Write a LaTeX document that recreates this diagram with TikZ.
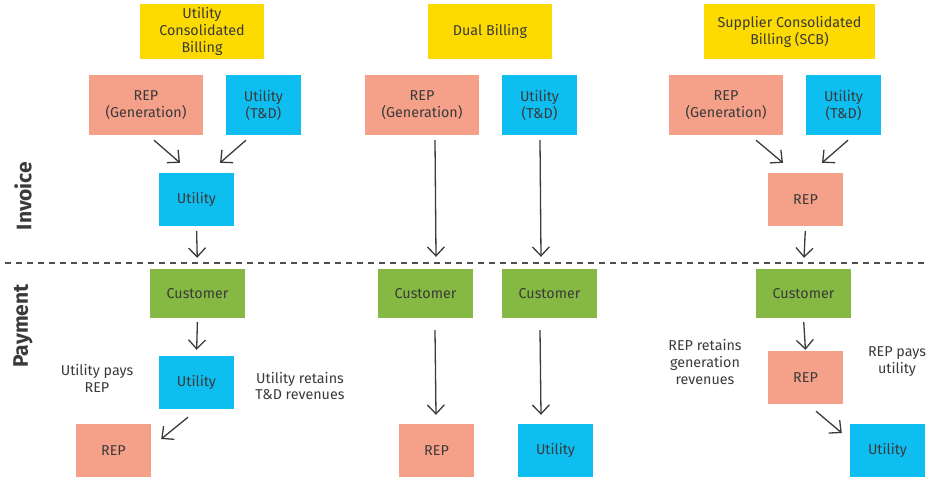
\documentclass[tikz,border=0pt]{standalone}
\usepackage{fontspec}
\setmainfont{Fira Sans}
\usepackage{tikz}
\usetikzlibrary{arrows.meta, calc}
\definecolor{billyellow}{RGB}{253, 219, 0}
\definecolor{repsalmon}{RGB}{245, 160, 137}
\definecolor{utilblue}{RGB}{14, 190, 240}
\definecolor{custgreen}{RGB}{134, 185, 67}
\definecolor{inkgray}{RGB}{58, 58, 58}

\tikzset{
  box/.style={inner sep=0pt, align=center, text=inkgray, font=\fontsize{14.3}{17}\selectfont},
  headbox/.style={box, fill=billyellow, minimum height=55pt},
  repbox/.style={box, fill=repsalmon, minimum width=75pt, minimum height=53pt},
  utilbox/.style={box, fill=utilblue, minimum width=75pt, minimum height=53pt},
  custbox/.style={box, fill=custgreen, minimum width=95pt, minimum height=49pt},
  note/.style={align=center, text=inkgray, font=\fontsize{14.3}{17}\selectfont},
  phase/.style={rotate=90, text=inkgray, font=\fontsize{21}{24}\selectfont\bfseries},
  arr/.style={-{Straight Barb[length=9pt, width=17pt, line width=1.3pt]}, line width=1.3pt, draw=inkgray}
}

\begin{document}
\begin{tikzpicture}[x=1pt, y=-1pt]
  \useasboundingbox (0,0) rectangle (928,477);
  % phase labels
  \node[phase] (inv) at (23,196) {Invoice};
  \node[phase] (pay) at (23,326) {Payment};
  \coordinate (dl) at (5,263);
  \coordinate (dr) at (928,263);
  \draw[inkgray!90, line width=2pt, dash pattern=on 6pt off 5pt] (dl) -- (dr);

  % utility consolidated billing
  \node[headbox, minimum width=124pt] (hA) at (202,31.5) {Utility\\Consolidated\\Billing};
  \node[repbox, minimum width=114pt, minimum height=60pt] (gA) at (146,105) {REP\\(Generation)};
  \node[utilbox, minimum height=60pt] (tA) at (263.5,105) {Utility\\(T\&D)};
  \node[utilbox] (iA) at (196.5,199.5) {Utility};
  \node[custbox] (cA) at (197.5,293.5) {Customer};
  \node[utilbox] (pA) at (196.5,382.5) {Utility};
  \node[repbox] (rA) at (113.5,450.5) {REP};
  \node[note] (nA1) at (97,378) {Utility pays\\REP};
  \node[note] (nA2) at (300,386) {Utility retains\\T\&D revenues};
  \draw[arr] ($(gA.south)+(8,5)$) -- ($(iA.north)+(-16.5,-10)$);
  \draw[arr] ($(tA.south)+(-17.5,5)$) -- ($(iA.north)+(23.5,-10)$);
  \draw[arr, shorten <=5pt, shorten >=11pt] (iA.south) -- (cA.north);
  \draw[arr, shorten <=4pt, shorten >=6pt] (cA.south) -- (pA.north);
  \draw[arr] ($(pA.south)+(-8.5,8)$) -- ($(rA.east)+(10,-11.5)$);

  % dual billing
  \node[headbox, minimum width=124pt] (hB) at (490,31.5) {Dual Billing};
  \node[repbox, minimum width=114pt, minimum height=60pt] (gB) at (422,105) {REP\\(Generation)};
  \node[utilbox, minimum height=60pt] (tB) at (539.5,105) {Utility\\(T\&D)};
  \node[custbox] (cB1) at (425.5,293.5) {Customer};
  \node[custbox] (cB2) at (549.5,293.5) {Customer};
  \node[repbox] (rB) at (436.5,450.5) {REP};
  \node[utilbox] (uB) at (555.5,450.5) {Utility};
  \draw[arr] ($(gB.south)+(13,5)$) -- ($(cB1.north)+(10.5,-12)$);
  \draw[arr] ($(tB.south)+(0.5,5)$) -- ($(cB2.north)+(-8.5,-12)$);
  \draw[arr] ($(cB1.south)+(9.5,12)$) -- ($(rB.north)+(-0.5,-9)$);
  \draw[arr] ($(cB2.south)+(-9.5,12)$) -- ($(uB.north)+(-14.5,-9)$);

  % supplier consolidated billing
  \node[headbox, minimum width=171pt] (hC) at (789.5,31.5) {Supplier Consolidated\\Billing (SCB)};
  \node[repbox, minimum width=114pt, minimum height=60pt] (gC) at (726,105) {REP\\(Generation)};
  \node[utilbox, minimum height=60pt] (tC) at (843.5,105) {Utility\\(T\&D)};
  \node[repbox] (iC) at (805.5,199.5) {REP};
  \node[custbox] (cC) at (803.5,293.5) {Customer};
  \node[repbox] (pC) at (805.5,377.5) {REP};
  \node[utilbox] (uC) at (887.5,450.5) {Utility};
  \node[note] (nC1) at (705,362) {REP retains\\generation\\revenues};
  \node[note] (nC2) at (897,362) {REP pays\\utility};
  \draw[arr] ($(gC.south)+(30,5)$) -- ($(iC.north)+(-22.5,-10)$);
  \draw[arr] ($(tC.south)+(4.5,5)$) -- ($(iC.north)+(16.5,-10)$);
  \draw[arr, shorten <=5pt, shorten >=11pt] (iC.south) -- (cC.north);
  \draw[arr, shorten <=4pt, shorten >=1pt] (cC.south) -- (pC.north);
  \draw[arr] ($(pC.south)+(10.5,7)$) -- ($(uC.west)+(-8,-17.5)$);
\end{tikzpicture}
\end{document}
